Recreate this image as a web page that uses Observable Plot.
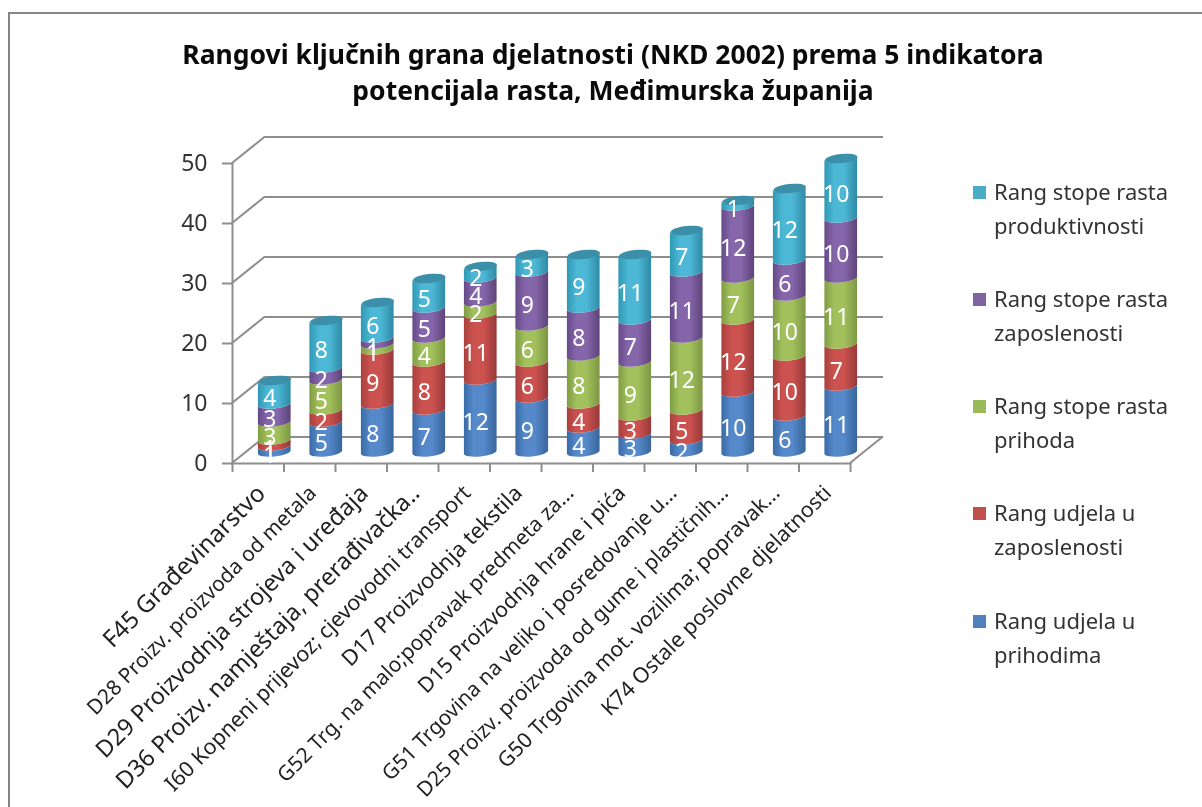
<!DOCTYPE html>
<html>
<head>
<meta charset="utf-8">
<script src="https://cdn.jsdelivr.net/npm/d3@7"></script>
<script src="https://cdn.jsdelivr.net/npm/@observablehq/plot@0.6"></script>
<style>
html,body{margin:0;padding:0;background:#fff;}
#wrap{position:relative;width:1202px;height:807px;overflow:hidden;font-family:"Noto Sans",sans-serif;filter:blur(0.4px);}
#border{position:absolute;left:8px;top:12px;width:1300px;height:900px;border:2px solid #868686;box-sizing:border-box;}
#title{position:absolute;left:13px;width:1200px;top:36px;text-align:center;font-weight:700;font-size:26.5px;line-height:36px;color:#0a0a0a;}
.leg{position:absolute;left:973px;width:13px;height:13px;}
.legt{position:absolute;left:994px;font-size:22px;line-height:33.5px;color:#333;white-space:nowrap;}
</style>
</head>
<body>
<div id="wrap">
<div id="border"></div>
<div id="chart"></div>
<div id="title">Rangovi ključnih grana djelatnosti (NKD 2002) prema 5 indikatora<br>potencijala rasta, Međimurska županija</div>
<div id="legend"></div>
</div>
<script>
const categories = [
  "F45 Građevinarstvo",
  "D28 Proizv. proizvoda od metala",
  "D29 Proizvodnja strojeva i uređaja",
  "D36 Proizv. namještaja, prerađivačka..",
  "I60 Kopneni prijevoz; cjevovodni transport",
  "D17 Proizvodnja tekstila",
  "G52 Trg. na malo;popravak predmeta za...",
  "D15 Proizvodnja hrane i pića",
  "G51 Trgovina na veliko i posredovanje u...",
  "D25 Proizv. proizvoda od gume i plastičnih...",
  "G50 Trgovina mot. vozilima; popravak...",
  "K74 Ostale poslovne djelatnosti"
];
const seriesNames = [
  "Rang udjela u prihodima",
  "Rang udjela u zaposlenosti",
  "Rang stope rasta prihoda",
  "Rang stope rasta zaposlenosti",
  "Rang stope rasta produktivnosti"
];
const udjelPrihodi     = [1, 5, 8, 7, 12, 9, 4, 3, 2, 10, 6, 11];
const udjelZaposlenost = [1, 2, 9, 8, 11, 6, 4, 3, 5, 12, 10, 7];
const rastPrihodi      = [3, 5, 1, 4, 2, 6, 8, 9, 12, 7, 10, 11];
const rastZaposlenost  = [3, 2, 1, 5, 4, 9, 8, 7, 11, 12, 6, 10];
const rastProduktivnost= [4, 8, 6, 5, 2, 3, 9, 11, 7, 1, 12, 10];
const yTicks = [0, 10, 20, 30, 40, 50];
const legendColors = ["#4f81bd", "#c0504d", "#9bbb59", "#8064a2", "#4bacc6"];
const gradientStops = [
  ["#3a6ba6", "#5589ca", "#5589ca", "#38659b"],
  ["#a8403e", "#cc524f", "#cc524f", "#96393a"],
  ["#7f9c44", "#a2c15c", "#a2c15c", "#7d9644"],
  ["#654a88", "#8666ab", "#8666ab", "#5d4478"],
  ["#2f98b4", "#4cb8d6", "#4cb8d6", "#2f8aa5"]
];
// drawn length of each slanted category label in the picture
const labelLengths = [218, 314, 374, 418, 422, 245, 409, 283, 407, 430, 389, 315];
const allSeries = [udjelPrihodi, udjelZaposlenost, rastPrihodi, rastZaposlenost, rastProduktivnost];
const table = [];
categories.forEach((c, i) => seriesNames.forEach((s, j) => table.push({cat: c, series: s, value: allSeries[j][i]})));
const totals = categories.map((c, i) => ({cat: c, total: d3.sum(allSeries, a => a[i])}));

const measure = document.createElement("canvas").getContext("2d");
measure.font = '100px "Noto Sans"';
const labelSize = d => {
  const i = categories.indexOf(d);
  return 100 * labelLengths[i] / measure.measureText(d).width;
};

// layout
const W = 1202, H = 807, mL = 232, mR = 352, mT = 163, mB = 344;
const depthX = 33, depthY = -26.5, barDx = 16.5, barDy = -11, tilt = -6;
const bandW = (W - mL - mR) / categories.length;
const gridColor = "#8e8e8e";

// cylinder side instead of flat rect: same scaled geometry from the bar mark
function cylinderRender(index, scales, values, dims, ctx, next) {
  const g = next(index, scales, values, dims, ctx);
  g.querySelectorAll("rect").forEach(r => {
    const x = +r.getAttribute("x"), y = +r.getAttribute("y"), w = +r.getAttribute("width"), h = +r.getAttribute("height");
    const rx = w / 2, ry = 4.4, t = rx * Math.sin(-tilt * Math.PI / 180);
    const p = document.createElementNS("http://www.w3.org/2000/svg", "path");
    p.setAttribute("d", `M${x},${y + h + t}A${rx},${ry},${tilt},0,0,${x + w},${y + h - t}L${x + w},${y - t}A${rx},${ry},${tilt},0,1,${x},${y + t}Z`);
    for (const a of r.attributes) if (!["x", "y", "width", "height"].includes(a.name)) p.setAttribute(a.name, a.value);
    r.replaceWith(p);
  });
  return g;
}
// tilted ellipse symbol for the cylinder tops
const topEllipse = {
  draw(c, size) {
    const rx = Math.sqrt(size / Math.PI), ry = 4.6, a = tilt * Math.PI / 180, n = 24;
    for (let i = 0; i <= n; i++) {
      const th = 2 * Math.PI * i / n, ex = rx * Math.cos(th), ey = ry * Math.sin(th);
      const px = ex * Math.cos(a) - ey * Math.sin(a), py = ex * Math.sin(a) + ey * Math.cos(a);
      i ? c.lineTo(px, py) : c.moveTo(px, py);
    }
    c.closePath();
  }
};
function defsMark() {
  const defs = d3.create("svg:defs");
  gradientStops.forEach((st, i) => {
    const g = defs.append("linearGradient").attr("id", "cyl" + i).attr("x1", 0).attr("x2", 1).attr("y1", 0).attr("y2", 0);
    [0, 0.3, 0.6, 1].forEach((o, k) => g.append("stop").attr("offset", o).attr("stop-color", st[k]));
  });
  return defs.node();
}
// sloping wall and floor edges joining the front axis to the back wall
function depthEdges(index, {y}, values, {marginLeft, width, marginRight}) {
  const g = d3.create("svg:g").attr("stroke", gridColor).attr("stroke-width", 2).attr("fill", "none");
  for (const t of yTicks) {
    g.append("line").attr("x1", marginLeft).attr("y1", y(t)).attr("x2", marginLeft + depthX).attr("y2", y(t) + depthY);
  }
  g.append("line").attr("x1", width - marginRight).attr("y1", y(0)).attr("x2", width - marginRight + depthX).attr("y2", y(0) + depthY);
  return g.node();
}

const plot = Plot.plot({
  width: W, height: H,
  marginLeft: mL, marginRight: mR, marginTop: mT, marginBottom: mB,
  style: {background: "transparent", fontFamily: '"Noto Sans",sans-serif', overflow: "visible"},
  x: {domain: categories, paddingInner: 0.365, paddingOuter: 0.1825, round: false, axis: null},
  y: {domain: [0, 50], axis: null},
  color: {domain: seriesNames, range: gradientStops.map((_, i) => `url(#cyl${i})`)},
  marks: [
    defsMark,
    Plot.ruleY(yTicks, {dx: depthX, dy: depthY, stroke: gridColor, strokeWidth: 2}),
    depthEdges,
    Plot.frame({anchor: "left", stroke: gridColor, strokeWidth: 2}),
    Plot.frame({anchor: "bottom", stroke: gridColor, strokeWidth: 2}),
    Plot.axisY({ticks: yTicks, tickSize: 10, tickPadding: 15, fontSize: 23, stroke: gridColor, strokeWidth: 2, fill: "#333", tickFormat: d => d, label: null}),
    Plot.ruleX(categories, {x: d => d, y1: 0, y2: 0, insetTop: 9, dx: -bandW / 2, stroke: gridColor, strokeWidth: 2}),
    Plot.ruleX(categories.slice(-1), {x: d => d, y1: 0, y2: 0, insetTop: 9, dx: bandW / 2, stroke: gridColor, strokeWidth: 2}),
    Plot.barY(table, {x: "cat", y: "value", z: "series", fill: "series", dx: barDx, dy: barDy, render: cylinderRender}),
    Plot.dot(totals, {x: "cat", y: "total", r: bandW * 0.3175, symbol: topEllipse, fill: "#3b8fa8", stroke: "none", dx: barDx, dy: barDy}),
    Plot.text(table, Plot.stackY({x: "cat", y: "value", z: "series", text: "value", fill: "white", fontSize: 23, dx: 11.5, dy: -5})),
    Plot.text(categories, {
      x: d => d, y: () => 0, text: d => d, rotate: -45, textAnchor: "end", dx: 3, dy: 26, fill: "#222",
      fontSize: labelSize
    })
  ]
});
document.getElementById("chart").appendChild(plot);

// legend, top entry is the top of the stack
const legendTop = [192, 299, 406, 513, 621];
const legendEl = document.getElementById("legend");
[...seriesNames].reverse().forEach((name, i) => {
  const words = name.split(" ");
  const last = words.pop();
  const sq = document.createElement("div");
  sq.className = "leg";
  sq.style.top = (legendTop[i] - 6) + "px";
  sq.style.background = legendColors[4 - i];
  const t = document.createElement("div");
  t.className = "legt";
  t.style.top = (legendTop[i] - 17) + "px";
  t.innerHTML = words.join(" ") + "<br>" + last;
  legendEl.append(sq, t);
});
</script>
</body>
</html>
